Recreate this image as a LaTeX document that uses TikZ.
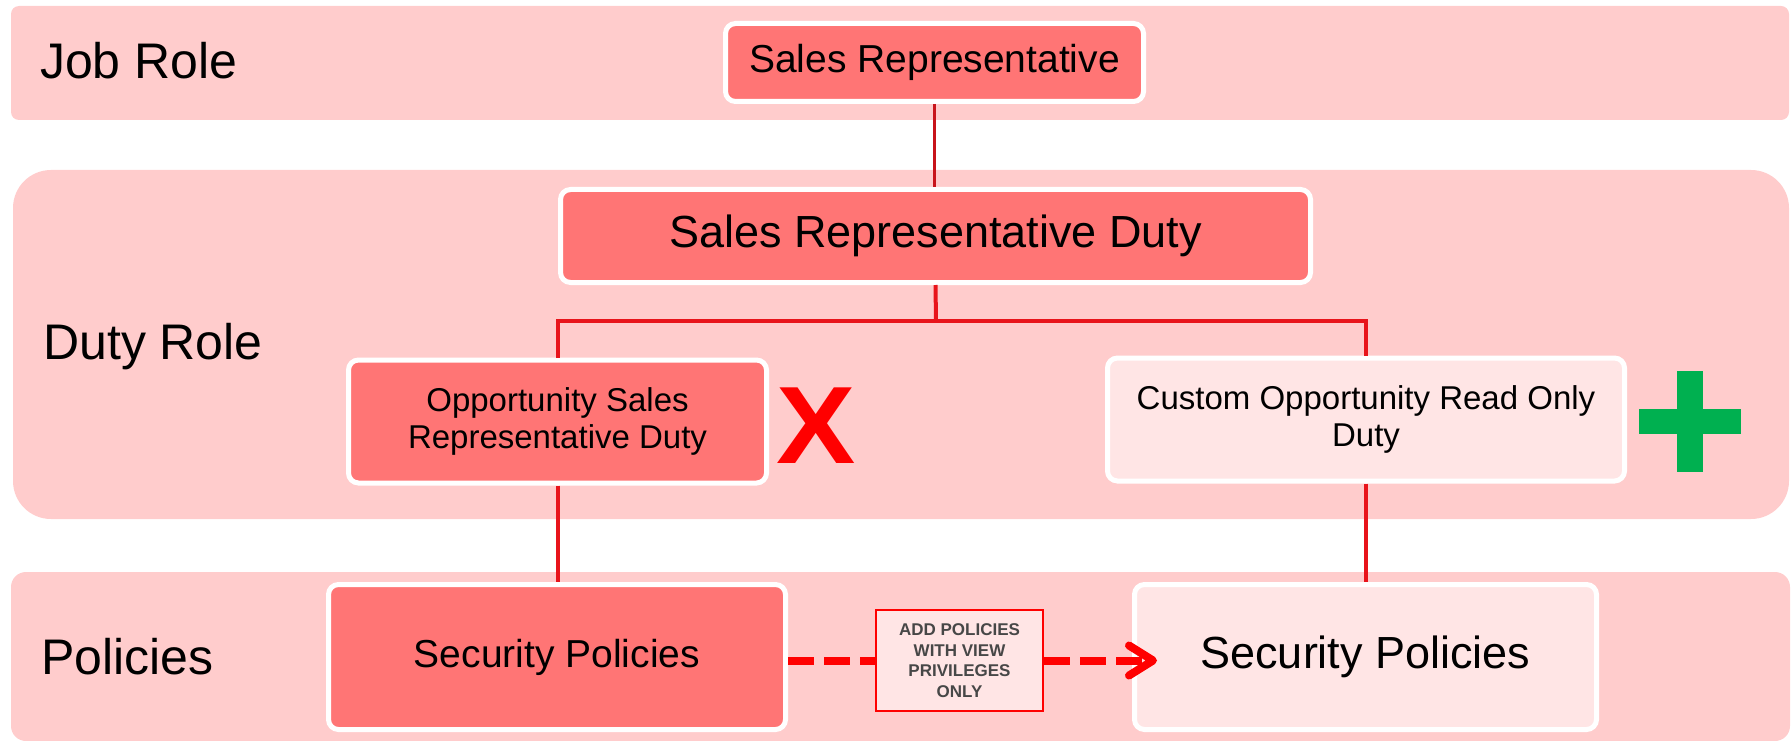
\documentclass[tikz,border=0pt]{standalone}
\usepackage{fontspec}
\setmainfont{Liberation Sans}
\usetikzlibrary{arrows.meta}
\definecolor{bandpink}{HTML}{FFCCCC}
\definecolor{salmon}{HTML}{FF7575}
\definecolor{palepink}{HTML}{FFE5E5}
\definecolor{linered}{HTML}{E8141B}
\definecolor{topred}{HTML}{C8141B}
\definecolor{xred}{HTML}{FF0000}
\definecolor{plusgreen}{HTML}{00B050}
\definecolor{notegray}{HTML}{474747}
\tikzset{
  band/.style={fill=bandpink},
  bandlabel/.style={anchor=base west, inner sep=0pt, font=\fontsize{50}{60}\selectfont},
  roledark/.style={fill=salmon, draw=white, line width=5pt, rounded corners=10pt, inner sep=0pt, align=center},
  rolelight/.style={fill=palepink, draw=white, line width=5pt, rounded corners=10pt, inner sep=0pt, align=center},
  conn/.style={draw=linered, line width=4pt},
  dasharrow/.style={draw=xred, line width=8pt, dash pattern=on 26pt off 10pt},
  notebox/.style={fill=palepink, draw=xred, line width=2pt, inner sep=0pt, align=center, text=notegray,
    font=\fontsize{17}{20.5}\selectfont\bfseries}
}
\begin{document}
\begin{tikzpicture}[x=1pt,y=-1pt]
\useasboundingbox (0,0) rectangle (1792,741);
% bands
\fill[band, rounded corners=8pt] (11,6) rectangle (1789,120);
\fill[band, rounded corners=38pt] (13,170) rectangle (1789,519);
\fill[band, rounded corners=15pt] (11,572) rectangle (1790,741);
\node[bandlabel] (lbljob) at (40,79) {Job Role};
\node[bandlabel] (lblduty) at (43,359) {Duty Role};
\node[bandlabel] (lblpol) at (41,674) {Policies};
% boxes
\node[roledark, minimum width=418pt, minimum height=78pt, font=\fontsize{39}{44}\selectfont] (job) at (934.5,62.5) {\raisebox{-2pt}{Sales Representative}};
\node[roledark, minimum width=750pt, minimum height=93pt, font=\fontsize{45}{50}\selectfont] (duty) at (935.5,236) {\raisebox{-2pt}{Sales Representative Duty}};
\node[roledark, minimum width=418pt, minimum height=123pt, font=\fontsize{33}{37}\selectfont] (opp) at (557.5,421.5) {Opportunity Sales\\Representative Duty};
\node[rolelight, minimum width=517pt, minimum height=123pt, font=\fontsize{33}{37}\selectfont] (cust) at (1366,419.5) {Custom Opportunity Read Only\\Duty};
\node[roledark, minimum width=457pt, minimum height=145pt, font=\fontsize{39}{44}\selectfont] (lsec) at (557,657) {\raisebox{-1.5pt}{Security Policies}};
\node[rolelight, minimum width=462pt, minimum height=145pt, font=\fontsize{45}{50}\selectfont] (rsec) at (1365.5,657) {\raisebox{-1.5pt}{Security Policies}};
\node[notebox, minimum width=167pt, minimum height=101pt] (add) at (959.5,660.5) {ADD POLICIES\\WITH VIEW\\PRIVILEGES\\ONLY};
% marks
\node[text=xred, inner sep=0pt, font=\fontsize{110}{110}\selectfont\bfseries] (xmark) at (816,426) {\scalebox{1.08}[1]{X}};
\fill[plusgreen] (1639,409) rectangle (1741,434);
\fill[plusgreen] (1677,371) rectangle (1703,472);
% connectors
\coordinate (split) at (936,321);
\draw[conn, draw=topred, line width=3.5pt] (job.south) -- (job.south |- duty.north);
\draw[conn] (duty.south) -- (split);
\draw[conn] (opp.north) |- (split) -| (cust.north);
\draw[conn] (opp.south) -- (opp.south |- lsec.north);
\draw[conn] (cust.south) -- (cust.south |- rsec.north);
\draw[dasharrow] (add.west -| lsec.east) -- (add.west);
\coordinate (tip) at ([xshift=25pt]rsec.west |- add.east);
\draw[dasharrow, -{Straight Barb[length=24pt,width=30pt,round]}] (add.east) -- (tip);
\end{tikzpicture}
\end{document}
